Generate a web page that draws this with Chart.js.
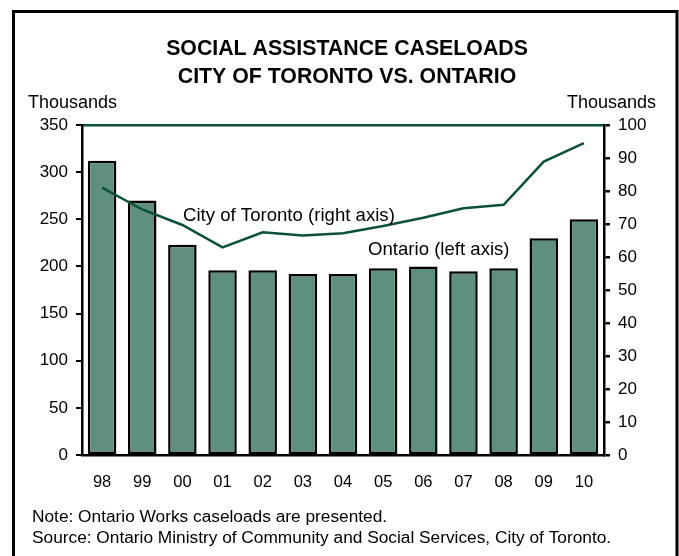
<!DOCTYPE html>
<html>
<head>
<meta charset="utf-8">
<script src="https://cdn.jsdelivr.net/npm/chart.js@4/dist/chart.umd.min.js"></script>
<style>
  html, body { margin: 0; padding: 0; background: #fff; }
  #wrap { width: 679px; height: 556px; position: relative; }
</style>
</head>
<body>
<div id="wrap"><canvas id="caseChart" width="679" height="556"></canvas></div>
<script>
// years on the x axis
const years = ['98', '99', '00', '01', '02', '03', '04', '05', '06', '07', '08', '09', '10'];
// Ontario caseloads, thousands (left axis)
const ontarioCases = [312, 270, 223, 196, 196, 192, 192, 198, 200, 195, 198, 230, 250];
// City of Toronto caseloads, thousands (right axis)
const torontoCases = [81.0, 74.4, 69.7, 62.9, 67.5, 66.5, 67.2, 69.4, 71.9, 74.8, 75.8, 88.9, 94.5];

const titleLines = ['SOCIAL ASSISTANCE CASELOADS', 'CITY OF TORONTO VS. ONTARIO'];
const noteLines = [
    'Note: Ontario Works caseloads are presented.',
    'Source: Ontario Ministry of Community and Social Services, City of Toronto.'
];

const FONT = "'Liberation Sans', Arial, sans-serif";
const barGreen = '#5F907D';
const lineGreen = '#0D5238';

// frame, titles, unit labels, series labels and notes
const decorations = {
    id: 'decorations',
    beforeDraw(chart) {
        const c = chart.ctx;
        c.save();
        c.strokeStyle = '#000';
        c.lineWidth = 3;
        c.beginPath();
        c.moveTo(13.5, 560);
        c.lineTo(13.5, 11.5);
        c.lineTo(677, 11.5);
        c.lineTo(677, 560);
        c.stroke();
        c.restore();
    },
    afterDraw(chart) {
        const c = chart.ctx;
        const area = chart.chartArea;
        c.save();
        c.fillStyle = '#000';
        c.textBaseline = 'middle';

        c.textAlign = 'center';
        c.font = 'bold 21.3px ' + FONT;
        c.fillText(titleLines[0], 347, 49);
        c.fillText(titleLines[1], 347, 77);

        c.font = '18px ' + FONT;
        c.textAlign = 'left';
        c.fillText('Thousands', 28, area.top - 22);
        c.textAlign = 'right';
        c.fillText('Thousands', 656, area.top - 22);

        c.textAlign = 'left';
        c.font = '18.6px ' + FONT;
        c.fillText('City of Toronto (right axis)', 183, 216);
        c.fillText('Ontario (left axis)', 368, 250);

        c.font = '17.3px ' + FONT;
        c.fillText(noteLines[0], 32, 517);
        c.fillText(noteLines[1], 32, 538);
        c.restore();
    }
};

const ctx = document.getElementById('caseChart').getContext('2d');

new Chart(ctx, {
    data: {
        labels: years,
        datasets: [
            {
                type: 'line',
                label: 'City of Toronto (right axis)',
                data: torontoCases,
                yAxisID: 'y1',
                borderColor: lineGreen,
                borderWidth: 2.5,
                pointRadius: 0,
                tension: 0,
                order: 0
            },
            {
                type: 'bar',
                label: 'Ontario (left axis)',
                data: ontarioCases,
                yAxisID: 'y',
                backgroundColor: barGreen,
                borderColor: '#000',
                borderWidth: 2.5,
                borderSkipped: false,
                barPercentage: 0.71,
                categoryPercentage: 1.0,
                order: 1
            }
        ]
    },
    options: {
        responsive: false,
        animation: false,
        events: [],
        layout: { padding: { top: 125, left: 0, right: 0, bottom: 0 } },
        plugins: {
            legend: { display: false },
            title: { display: false },
            tooltip: { enabled: false }
        },
        scales: {
            x: {
                grid: { display: false },
                border: { color: '#000', width: 2.5 },
                ticks: { color: '#000', font: { family: FONT, size: 16.5 }, padding: 10 },
                afterFit(scale) { scale.height = 101; }
            },
            y: {
                position: 'left',
                min: 0,
                max: 350,
                ticks: { stepSize: 50, color: '#000', font: { family: FONT, size: 17 }, padding: 8 },
                grid: { drawOnChartArea: false, color: '#000', lineWidth: 2, tickLength: 6 },
                border: { color: '#000', width: 2.5 },
                afterFit(scale) { scale.width = 82; }
            },
            y1: {
                position: 'right',
                min: 0,
                max: 100,
                ticks: { stepSize: 10, color: '#000', font: { family: FONT, size: 17 }, padding: 8 },
                grid: {
                    drawOnChartArea: true,
                    color: (c) => c.tick && c.tick.value === 100 ? lineGreen : 'rgba(0,0,0,0)',
                    tickColor: '#000',
                    lineWidth: 2.5,
                    tickLength: 6
                },
                border: { color: '#000', width: 2.5 },
                afterFit(scale) { scale.width = 75; }
            }
        }
    },
    plugins: [decorations]
});
</script>
</body>
</html>
